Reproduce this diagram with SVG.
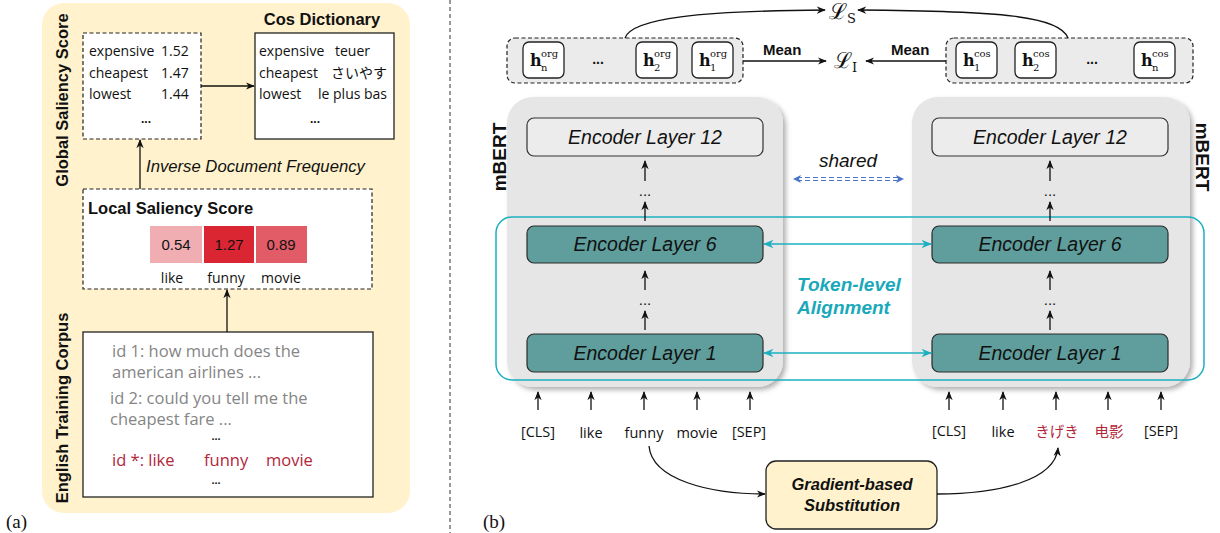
<svg xmlns="http://www.w3.org/2000/svg" width="1220" height="533" viewBox="0 0 1220 533">
  <style>
    .hand { font-family: "Open Sans", "Noto Sans", "Noto Sans CJK JP", sans-serif; font-size: 14px; fill: #111; }
    .corp { font-size: 16.5px; }
    .tok { font-size: 14.5px; }
    .gray { fill: #858585; }
    .red { fill: #b3263a; }
    .bold { font-family: "Liberation Sans", Arial, sans-serif; font-weight: bold; fill: #111; }
    .ital { font-family: "Liberation Sans", Arial, sans-serif; font-style: italic; fill: #111; }
    .bi { font-family: "Liberation Sans", Arial, sans-serif; font-weight: bold; font-style: italic; }
    .cell { font-family: "Liberation Sans", Arial, sans-serif; font-size: 15px; fill: #111; text-anchor: middle; }
    .enc { font-family: "Liberation Sans", Arial, sans-serif; font-style: italic; font-size: 19.5px; fill: #111; text-anchor: middle; }
    .math { font-family: "DejaVu Serif", "Liberation Serif", serif; fill: #111; }
    .line { stroke: #111; stroke-width: 1.3; fill: none; }
    .hbox { fill: #fff; stroke: #222; stroke-width: 1.3; }
    .encLight { fill: #ececec; stroke: #333; stroke-width: 1.2; }
    .encTeal { fill: #5f9e9c; stroke: #2b2b2b; stroke-width: 1.2; }
    .cyan { stroke: #1cafc0; stroke-width: 1.5; fill: none; }
    .lbl { font-family: "Liberation Serif", "Times New Roman", serif; font-size: 19px; fill: #111; }
    .dots { font-family: "Liberation Sans", Arial, sans-serif; font-size: 15px; fill: #111; text-anchor: middle; }
  </style>
  <defs>
    <marker id="arr" viewBox="0 0 10 10" refX="9" refY="5" markerWidth="7" markerHeight="7" orient="auto-start-reverse">
      <path d="M0,1 L10,5 L0,9 L3,5 Z" fill="#111"/>
    </marker>
    <marker id="arrC" viewBox="0 0 10 10" refX="9" refY="5" markerWidth="7" markerHeight="7" orient="auto-start-reverse">
      <path d="M0,1 L10,5 L0,9 L3,5 Z" fill="#1cafc0"/>
    </marker>
    <filter id="shadow" x="-10%" y="-10%" width="125%" height="125%">
      <feDropShadow dx="3" dy="3" stdDeviation="2.5" flood-color="#000" flood-opacity="0.3"/>
    </filter>
  </defs>

  <!-- ===== Panel (a) ===== -->
  <g id="panel-a">
    <rect x="42" y="3" width="368" height="510" rx="22" fill="#fff2cc"/>
    <text class="bold" font-size="16.5" text-anchor="middle" transform="translate(68,100) rotate(-90)">Global Saliency Score</text>
    <text class="bold" font-size="16.5" text-anchor="middle" transform="translate(68,408) rotate(-90)">English Training Corpus</text>
  </g>

  <g id="global-score">
    <rect x="83" y="33" width="118" height="106" fill="#fff" stroke="#222" stroke-width="1.2" stroke-dasharray="4 2.5"/>
    <text class="hand" x="89" y="56">expensive</text><text class="hand" x="161" y="56">1.52</text>
    <text class="hand" x="89" y="78">cheapest</text><text class="hand" x="161" y="78">1.47</text>
    <text class="hand" x="89" y="99">lowest</text><text class="hand" x="161" y="99">1.44</text>
    <text class="bold" font-size="12" x="146" y="123" text-anchor="middle">...</text>
  </g>

  <g id="cos-dictionary">
    <text class="bold" font-size="16.5" x="322" y="25" text-anchor="middle">Cos Dictionary</text>
    <rect x="255" y="33" width="139" height="106" fill="#fff" stroke="#222" stroke-width="1.3"/>
    <text class="hand" x="259" y="56">expensive</text><text class="hand" x="335" y="56">teuer</text>
    <text class="hand" x="259" y="78">cheapest</text><text class="hand" x="331" y="78">さいやす</text>
    <text class="hand" x="259" y="99">lowest</text><text class="hand" x="318" y="99">le plus bas</text>
    <text class="bold" font-size="12" x="315" y="123" text-anchor="middle">...</text>
  </g>

  <g id="local-score">
    <rect x="83" y="189" width="289" height="100" fill="#fff" stroke="#222" stroke-width="1.2" stroke-dasharray="4 2.5"/>
    <text class="bold" font-size="16.5" x="88" y="214">Local Saliency Score</text>
    <rect x="150" y="226" width="52" height="37" fill="#f0aeb3"/>
    <rect x="204" y="226" width="50" height="37" fill="#da2533"/>
    <rect x="256" y="226" width="51" height="37" fill="#e15c66"/>
    <text class="cell" x="176" y="250">0.54</text>
    <text class="cell" x="229" y="250">1.27</text>
    <text class="cell" x="281" y="250">0.89</text>
    <text class="hand" font-size="15.5" x="172" y="283" text-anchor="middle">like</text>
    <text class="hand" font-size="15.5" x="226" y="283" text-anchor="middle">funny</text>
    <text class="hand" font-size="15.5" x="281" y="283" text-anchor="middle">movie</text>
  </g>

  <g id="corpus">
    <rect x="83" y="332" width="290" height="165" fill="#fff" stroke="#222" stroke-width="1.3"/>
    <text class="hand corp gray" x="112" y="357">id 1: how much does the</text>
    <text class="hand corp gray" x="112" y="378">american airlines ...</text>
    <text class="hand corp gray" x="110" y="404">id 2: could you tell me the</text>
    <text class="hand corp gray" x="110" y="425">cheapest fare ...</text>
    <text class="bold" font-size="11" x="216" y="440" text-anchor="middle">...</text>
    <text class="hand corp red" x="112" y="466">id *: like</text>
    <text class="hand corp red" x="204" y="466">funny</text>
    <text class="hand corp red" x="266" y="466">movie</text>
    <text class="bold" font-size="11" x="216" y="484" text-anchor="middle">...</text>
  </g>

  <g id="connectors-a">
    <line class="line" x1="201" y1="86" x2="254" y2="86" marker-end="url(#arr)"/>
    <line class="line" x1="140" y1="189" x2="140" y2="140" marker-end="url(#arr)"/>
    <line class="line" x1="227" y1="332" x2="227" y2="290" marker-end="url(#arr)"/>
    <text class="ital" font-size="16.7" x="146" y="172">Inverse Document Frequency</text>
  </g>

  <text class="lbl" x="6" y="528">(a)</text>
  <line x1="450" y1="0" x2="450" y2="533" stroke="#333" stroke-width="1" stroke-dasharray="4 3"/>
  <text class="lbl" x="483" y="528">(b)</text>

  <!-- ===== Panel (b) ===== -->
  <g id="mbert-left">
    <rect x="507" y="97" width="276" height="290" rx="26" fill="#e6e6e6" filter="url(#shadow)"/>
    <text class="bold" font-size="19" text-anchor="middle" transform="translate(506,157) rotate(-90)">mBERT</text>
  </g>
  <g id="mbert-right">
    <rect x="912" y="97" width="278" height="290" rx="26" fill="#e6e6e6" filter="url(#shadow)"/>
    <text class="bold" font-size="19" text-anchor="middle" transform="translate(1196,157) rotate(90)">mBERT</text>
  </g>

  <!-- token-level alignment region -->
  <g id="alignment-region">
    <rect x="496" y="217" width="708" height="163" rx="16" class="cyan"/>
    <text class="bi" font-size="19" fill="#1aa9ba" x="797" y="291">Token-level</text>
    <text class="bi" font-size="19" fill="#1aa9ba" x="797" y="314">Alignment</text>
  </g>

  <g id="enc-left-12"><rect class="encLight" x="527" y="118" width="236" height="38" rx="7"/><text class="enc" x="645" y="144">Encoder Layer 12</text></g>
  <g id="enc-left-6"><rect class="encTeal" x="527" y="226" width="236" height="37" rx="7"/><text class="enc" x="645" y="251">Encoder Layer 6</text></g>
  <g id="enc-left-1"><rect class="encTeal" x="527" y="334" width="236" height="38" rx="7"/><text class="enc" x="645" y="360">Encoder Layer 1</text></g>
  <g id="enc-right-12"><rect class="encLight" x="932" y="118" width="236" height="38" rx="7"/><text class="enc" x="1050" y="144">Encoder Layer 12</text></g>
  <g id="enc-right-6"><rect class="encTeal" x="932" y="226" width="236" height="37" rx="7"/><text class="enc" x="1050" y="251">Encoder Layer 6</text></g>
  <g id="enc-right-1"><rect class="encTeal" x="932" y="334" width="236" height="38" rx="7"/><text class="enc" x="1050" y="360">Encoder Layer 1</text></g>

  <!-- hidden-state groups -->
  <g id="org-states">
    <rect x="507" y="38" width="236" height="45" rx="8" fill="#ebebeb" stroke="#222" stroke-width="1.2" stroke-dasharray="4 2.5"/>
    <rect class="hbox" x="523" y="42" width="41" height="36" rx="6"/>
    <text class="math" font-weight="bold" font-size="16" x="530" y="66">h</text>
    <text class="math" font-size="10" x="541" y="57">org</text>
    <text class="math" font-size="10" x="541" y="71">n</text>
    <text class="bold" font-size="14" x="598" y="64" text-anchor="middle">...</text>
    <rect class="hbox" x="636" y="42" width="41" height="36" rx="6"/>
    <text class="math" font-weight="bold" font-size="16" x="643" y="66">h</text>
    <text class="math" font-size="10" x="654" y="57">org</text>
    <text class="math" font-size="10" x="654" y="71">2</text>
    <rect class="hbox" x="692" y="42" width="41" height="36" rx="6"/>
    <text class="math" font-weight="bold" font-size="16" x="699" y="66">h</text>
    <text class="math" font-size="10" x="710" y="57">org</text>
    <text class="math" font-size="10" x="710" y="71">1</text>
  </g>

  <g id="cos-states">
    <rect x="946" y="38" width="247" height="45" rx="8" fill="#ebebeb" stroke="#222" stroke-width="1.2" stroke-dasharray="4 2.5"/>
    <rect class="hbox" x="956" y="42" width="41" height="36" rx="6"/>
    <text class="math" font-weight="bold" font-size="16" x="963" y="66">h</text>
    <text class="math" font-size="10" x="974" y="57">cos</text>
    <text class="math" font-size="10" x="974" y="71">1</text>
    <rect class="hbox" x="1015" y="42" width="41" height="36" rx="6"/>
    <text class="math" font-weight="bold" font-size="16" x="1022" y="66">h</text>
    <text class="math" font-size="10" x="1033" y="57">cos</text>
    <text class="math" font-size="10" x="1033" y="71">2</text>
    <text class="bold" font-size="14" x="1092" y="64" text-anchor="middle">...</text>
    <rect class="hbox" x="1134" y="42" width="41" height="36" rx="6"/>
    <text class="math" font-weight="bold" font-size="16" x="1141" y="66">h</text>
    <text class="math" font-size="10" x="1152" y="57">cos</text>
    <text class="math" font-size="10" x="1152" y="71">n</text>
  </g>

  <g id="losses">
    <text class="math" font-size="22" x="829" y="19">ℒ<tspan font-size="13" dx="0" dy="4">S</tspan></text>
    <text class="math" font-size="22" x="834" y="68">ℒ<tspan font-size="13" dx="0" dy="4">I</tspan></text>
    <text class="bold" font-size="15" x="763" y="55">Mean</text>
    <text class="bold" font-size="15" x="891" y="55">Mean</text>
  </g>

  <!-- input tokens -->
  <g id="tokens">
    <text class="hand tok" x="538" y="437" text-anchor="middle">[CLS]</text>
    <text class="hand tok" x="591" y="438" text-anchor="middle">like</text>
    <text class="hand tok" x="644" y="438" text-anchor="middle">funny</text>
    <text class="hand tok" x="697" y="438" text-anchor="middle">movie</text>
    <text class="hand tok" x="749" y="437" text-anchor="middle">[SEP]</text>
    <text class="hand tok" x="949" y="436" text-anchor="middle">[CLS]</text>
    <text class="hand tok" x="1003" y="437" text-anchor="middle">like</text>
    <text class="hand tok red" x="1057" y="437" text-anchor="middle">きげき</text>
    <text class="hand tok red" x="1109" y="437" text-anchor="middle">电影</text>
    <text class="hand tok" x="1161" y="436" text-anchor="middle">[SEP]</text>
  </g>

  <g id="substitution">
    <rect x="766" y="461" width="171" height="68" rx="10" fill="#fff2cc" stroke="#222" stroke-width="1.3"/>
    <text class="bi" font-size="16.5" fill="#111" x="852" y="490" text-anchor="middle">Gradient-based</text>
    <text class="bi" font-size="16.5" fill="#111" x="852" y="511" text-anchor="middle">Substitution</text>
  </g>

  <g id="connectors-b">
    <!-- encoder stack arrows -->
    <line class="line" x1="645" y1="181" x2="645" y2="161" marker-end="url(#arr)"/>
    <text class="dots" x="645" y="196">...</text>
    <line class="line" x1="645" y1="221" x2="645" y2="202" marker-end="url(#arr)"/>
    <line class="line" x1="645" y1="290" x2="645" y2="271" marker-end="url(#arr)"/>
    <text class="dots" x="645" y="305">...</text>
    <line class="line" x1="645" y1="330" x2="645" y2="311" marker-end="url(#arr)"/>
    <line class="line" x1="1050" y1="181" x2="1050" y2="161" marker-end="url(#arr)"/>
    <text class="dots" x="1050" y="196">...</text>
    <line class="line" x1="1050" y1="221" x2="1050" y2="202" marker-end="url(#arr)"/>
    <line class="line" x1="1050" y1="290" x2="1050" y2="271" marker-end="url(#arr)"/>
    <text class="dots" x="1050" y="305">...</text>
    <line class="line" x1="1050" y1="330" x2="1050" y2="311" marker-end="url(#arr)"/>

    <!-- token input arrows -->
    <line class="line" x1="538" y1="410" x2="538" y2="392" marker-end="url(#arr)"/>
    <line class="line" x1="591" y1="410" x2="591" y2="392" marker-end="url(#arr)"/>
    <line class="line" x1="644" y1="410" x2="644" y2="392" marker-end="url(#arr)"/>
    <line class="line" x1="697" y1="410" x2="697" y2="392" marker-end="url(#arr)"/>
    <line class="line" x1="750" y1="410" x2="750" y2="392" marker-end="url(#arr)"/>
    <line class="line" x1="949" y1="410" x2="949" y2="392" marker-end="url(#arr)"/>
    <line class="line" x1="1003" y1="410" x2="1003" y2="392" marker-end="url(#arr)"/>
    <line class="line" x1="1056" y1="410" x2="1056" y2="392" marker-end="url(#arr)"/>
    <line class="line" x1="1108" y1="410" x2="1108" y2="392" marker-end="url(#arr)"/>
    <line class="line" x1="1161" y1="410" x2="1161" y2="392" marker-end="url(#arr)"/>

    <!-- substitution curves -->
    <path class="line" d="M649,446 C652,480 710,494 765,494" marker-end="url(#arr)"/>
    <path class="line" d="M937,494 C1000,494 1055,480 1058,448" marker-end="url(#arr)"/>

    <!-- alignment arrows -->
    <line class="cyan" x1="764" y1="244" x2="931" y2="244" marker-start="url(#arrC)" marker-end="url(#arrC)"/>
    <line class="cyan" x1="764" y1="353" x2="931" y2="353" marker-start="url(#arrC)" marker-end="url(#arrC)"/>

    <!-- shared parameters -->
    <text class="ital" font-size="19" x="848" y="167" text-anchor="middle">shared</text>
    <line x1="797" y1="177.5" x2="899" y2="177.5" stroke="#4a74c9" stroke-width="1" stroke-dasharray="5 3"/>
    <line x1="797" y1="180.5" x2="899" y2="180.5" stroke="#4a74c9" stroke-width="1" stroke-dasharray="5 3"/>
    <path d="M793,179 L801,175 L799,179 L801,183 Z M904,179 L896,175 L898,179 L896,183 Z" fill="#4a74c9"/>

    <!-- mean / loss arrows -->
    <line class="line" x1="743" y1="61" x2="826" y2="61" marker-end="url(#arr)"/>
    <line class="line" x1="946" y1="61" x2="866" y2="61" marker-end="url(#arr)"/>
    <path class="line" d="M625,38 C632,18 700,11 825,10" marker-end="url(#arr)"/>
    <path class="line" d="M1068,38 C1060,16 1000,11 858,10" marker-end="url(#arr)"/>
  </g>
</svg>
